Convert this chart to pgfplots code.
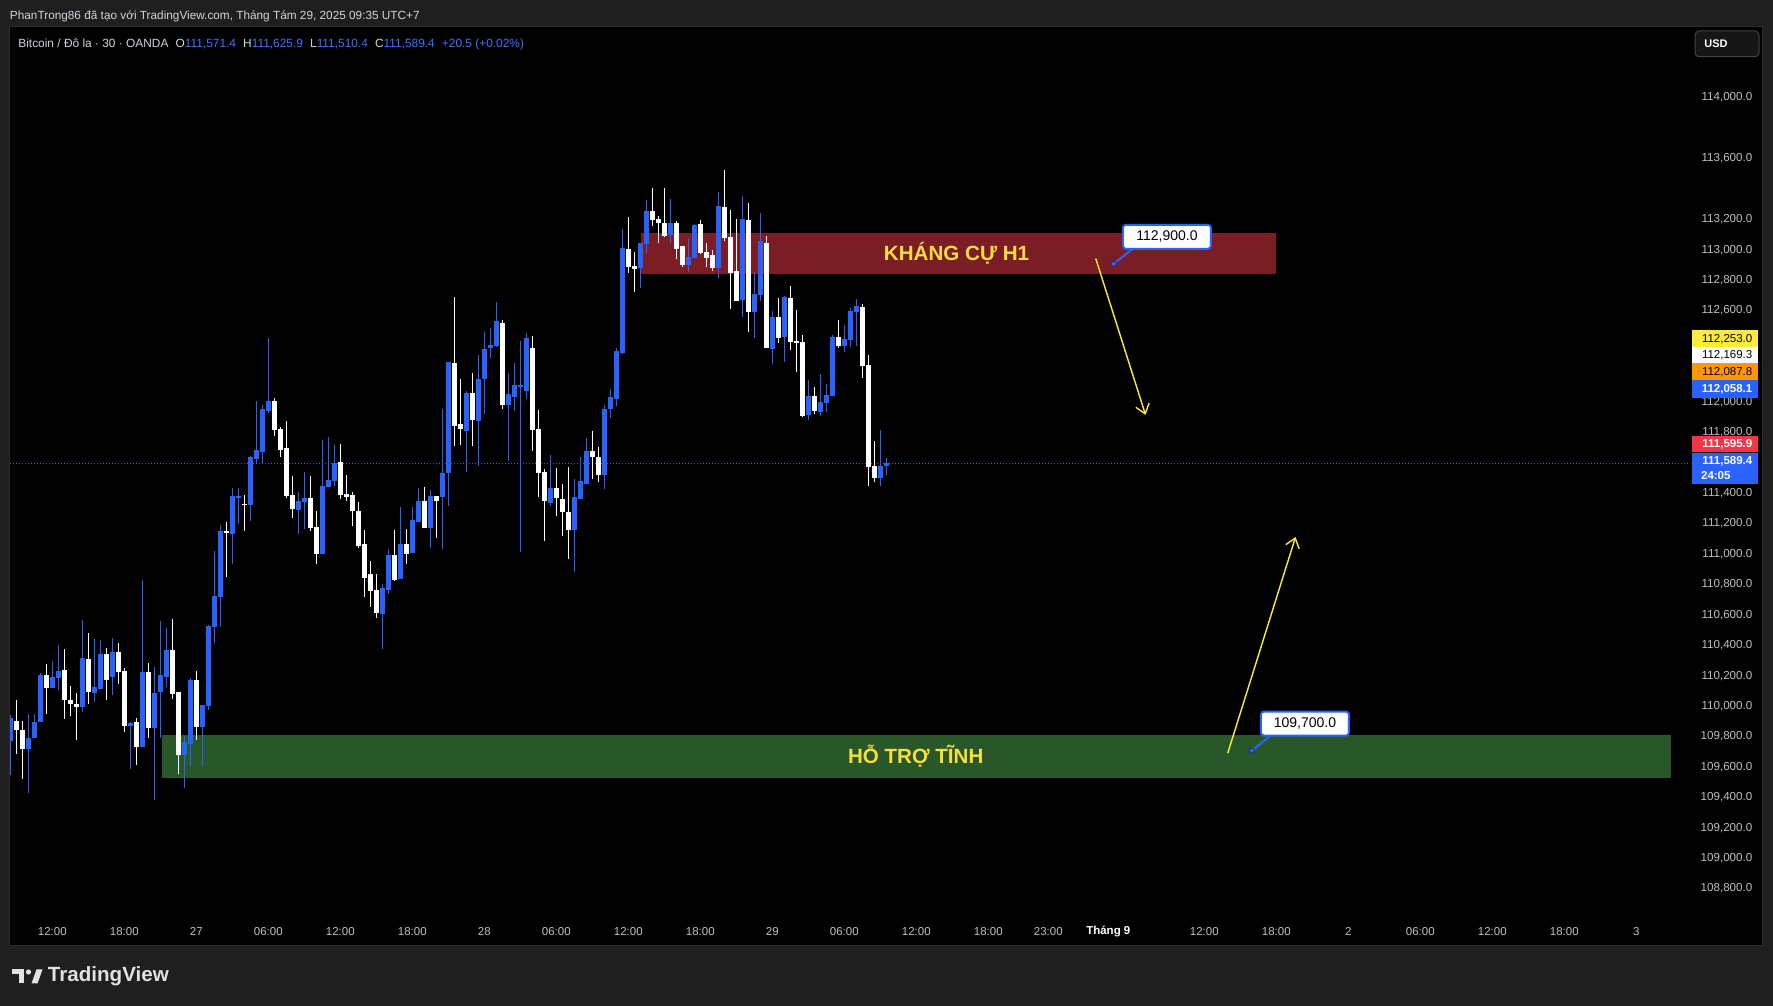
\documentclass[border=0pt]{standalone}
\usepackage{fontspec}
\setmainfont{Liberation Sans}
\usepackage{pgfplots}
\pgfplotsset{compat=1.18}
\usepackage{pgfplotstable}
\usetikzlibrary{arrows.meta}

\definecolor{bgout}{RGB}{31,31,31}
\definecolor{tvblue}{RGB}{41,98,255}
\definecolor{txtg}{RGB}{209,212,220}
\definecolor{axtxt}{RGB}{190,192,198}
\definecolor{rescol}{RGB}{122,29,36}
\definecolor{supcol}{RGB}{40,88,42}
\definecolor{ytxt}{RGB}{247,222,62}
\definecolor{arrowy}{RGB}{255,235,59}
\definecolor{tagyel}{RGB}{255,235,59}
\definecolor{tagora}{RGB}{255,152,0}
\definecolor{tagred}{RGB}{242,54,69}
\definecolor{paneb}{RGB}{44,44,44}
\definecolor{usdb}{RGB}{66,66,66}
\definecolor{usdf}{RGB}{22,22,22}
\definecolor{legval}{RGB}{60,115,255}
\definecolor{logo}{RGB}{225,225,225}

\newcommand{\FS}[1]{\fontsize{#1}{#1}\selectfont}

% up (blue) candles: x O H L C
\pgfplotstableread{
x O H L C
0 109760 109935 109540 109916
3 109708 109942 109423 109786
4 109780 109942 109780 109890
5 109890 110208 109890 110195
7 110110 110292 110110 110182
8 110175 110397 110097 110221
12 109987 110560 109955 110306
14 110078 110436 110020 110117
15 110104 110429 110104 110332
17 110182 110442 110065 110351
20 109864 109890 109579 109883
22 109721 110821 109721 110214
24 109851 110247 109378 110078
25 110085 110553 109780 110195
26 110182 110507 110117 110364
29 109670 109793 109456 109754
30 109741 110175 109598 110162
32 109858 110000 109598 110000
33 109994 110527 109968 110521
34 110514 111011 110410 110716
35 110710 111181 110514 111142
37 111122 111424 110926 111371
38 111358 111424 111188 111371
40 111312 111635 111207 111628
41 111615 111998 111582 111674
42 111661 111971 111582 111945
43 111932 112415 111918 111998
48 111280 111398 111122 111339
49 111332 111529 111155 111358
52 110991 111740 110991 111437
53 111431 111760 111431 111477
54 111470 111707 111437 111589
62 110599 110795 110371 110768
63 110755 111024 110729 110984
65 110827 111299 110827 111057
67 110997 111299 110997 111214
68 111201 111424 111201 111339
70 111161 111411 111030 111371
72 111365 111945 111024 111523
73 111523 112256 111306 112256
76 111800 112064 111529 112051
78 111866 112302 111569 112143
79 112143 112455 111912 112342
80 112348 112481 112282 112368
81 112362 112647 112355 112521
83 111971 112183 111602 112044
84 112024 112249 111932 112103
85 112090 112395 111004 112103
86 112064 112442 112011 112415
90 111325 111641 111306 111424
94 111148 111483 110873 111365
95 111352 111628 111352 111470
96 111450 111753 111450 111668
99 111510 111971 111418 111945
100 111945 112077 111885 112024
101 112011 112348 111965 112329
102 112315 113127 112309 113007
105 112874 113034 112741 113034
106 113027 113321 112974 113248
110 113087 113327 113040 113167
113 112894 113067 112847 112947
114 112940 113161 112940 113154
118 112874 113375 112807 113281
122 112661 113348 112548 113194
124 112581 112847 112415 112701
125 112694 113234 112654 113047
127 112342 112588 112243 112548
129 112422 112687 112256 112681
133 111905 112137 111872 112031
135 111925 112176 111899 111991
136 111984 112110 111925 112038
137 112031 112435 112031 112422
139 112362 112501 112322 112408
140 112402 112608 112355 112588
141 112581 112667 112362 112621
145 111490 111806 111437 111569
146 111571.4 111625.9 111510.4 111589.4
}\upT

% down (white) candles: x O H L C
\pgfplotstableread{
x O H L C
1 109896 110032 109676 109838
2 109838 109896 109514 109708
6 110195 110266 109942 110110
9 110227 110371 109909 110032
10 110032 110124 109929 110007
11 110007 110078 109767 109987
13 110299 110475 110007 110085
16 110338 110377 110032 110162
18 110351 110410 110136 110214
19 110221 110240 109819 109864
21 109890 109916 109605 109721
23 110214 110273 109786 109851
27 110358 110566 110039 110072
28 110085 110085 109546 109670
31 110162 110221 109767 109858
36 111142 111201 110840 111129
39 111319 111378 111142 111312
44 111998 112017 111767 111806
45 111813 111826 111628 111674
46 111687 111866 111358 111371
47 111378 111503 111227 111286
50 111358 111503 111142 111161
51 111168 111273 110926 110991
55 111595 111714 111352 111378
56 111385 111510 111339 111365
57 111378 111398 111175 111273
58 111273 111332 111030 111043
59 111057 111148 110710 110834
60 110860 110945 110644 110749
61 110755 110860 110573 110605
64 110984 111148 110814 110821
66 111057 111155 110926 110991
69 111339 111431 111161 111161
71 111371 111371 111096 111339
74 112249 112681 111701 111833
75 111846 112143 111707 111813
77 112051 112183 111701 111872
82 112514 112528 111945 111971
87 112348 112428 111668 111806
88 111813 111938 111365 111523
89 111529 111549 111076 111339
91 111424 111556 111240 111358
92 111352 111450 111109 111266
93 111266 111562 110958 111148
97 111668 111800 111483 111628
98 111628 111694 111464 111510
103 113000 113207 112840 112880
104 112887 112980 112714 112867
107 113248 113401 113147 113187
108 113194 113214 113040 113167
109 113167 113401 113074 113081
111 113167 113181 112934 113000
112 113014 113014 112880 112894
115 113161 113187 112967 112974
116 112980 113040 112880 112940
117 112960 112994 112854 112874
119 113274 113515 113047 113067
120 113074 113254 112601 112840
121 112854 113194 112654 112654
123 113187 113301 112455 112581
126 113040 113081 112349 112349
128 112548 112674 112382 112415
130 112674 112754 112335 112389
131 112395 112594 112190 112382
132 112389 112435 111892 111899
134 112031 112090 111912 111932
138 112422 112528 112348 112362
142 112614 112634 112150 112229
143 112236 112302 111437 111562
144 111569 111734 111464 111490
}\downT

\begin{document}
\begin{tikzpicture}
% ---------- frame (1 px = 0.5pt) ----------
\begin{scope}[x=0.5pt,y=-0.5pt,shift={(0pt,503pt)}]
\fill[bgout] (0,0) rectangle (1773,1006);
\fill[black] (9.5,27) rectangle (1762,946);
\draw[paneb, line width=0.5pt] (9.5,27) rectangle (1762,946);
\end{scope}

\begin{axis}[
  at={(5pt,47pt)}, anchor=south west,
  scale only axis, width=840pt, height=442.5pt,
  xmin=-0.055, xmax=279.945, ymin=108638.9, ymax=114456.9,
  scaled y ticks=false, scaled x ticks=false,
  axis line style={draw=none},
  major tick length=0pt, tick style={draw=none},
  xtick={7,19,31,43,55,67,79,91,103,115,127,139,151,163,173,183,199,211,223,235,247,259,271},
  xticklabels={12:00,18:00,27,06:00,12:00,18:00,28,06:00,12:00,18:00,29,06:00,12:00,18:00,23:00,{\textcolor{white}{\bfseries Tháng 9}},12:00,18:00,2,06:00,12:00,18:00,3},
  ytick={108800,109000,109200,109400,109600,109800,110000,110200,110400,110600,110800,111000,111200,111400,111600,111800,112000,112200,112400,112600,112800,113000,113200,113600,114000},
  yticklabels={{108,800.0},{109,000.0},{109,200.0},{109,400.0},{109,600.0},{109,800.0},{110,000.0},{110,200.0},{110,400.0},{110,600.0},{110,800.0},{111,000.0},{111,200.0},{111,400.0},{111,600.0},{111,800.0},{112,000.0},{112,200.0},{112,400.0},{112,600.0},{112,800.0},{113,000.0},{113,200.0},{113,600.0},{114,000.0}},
  yticklabel pos=right,
  xticklabel style={anchor=center, yshift=-9.85pt, inner sep=0pt, font=\FS{5.75pt}, text=axtxt},
  yticklabel style={anchor=east, xshift=31.35pt, yshift=-0.6pt, inner sep=0pt, font=\FS{5.8pt}, text=axtxt},
  ]
% zones
\fill[supcol] (axis cs:25.2,109520) rectangle (axis cs:276.8,109805);
\fill[rescol] (axis cs:105.1,112835) rectangle (axis cs:210.9,113105);
% last price line
\addplot[tvblue, line width=0.5pt, dash pattern=on 0.5pt off 1pt] coordinates {(-1,111589.4) (281,111589.4)};
% wicks
\addplot[draw=none, mark=none, error bars/.cd, y dir=plus, y explicit, error mark=none,
  error bar style={draw=tvblue, line width=0.5pt}]
  table[x=x, y=L, y error expr=\thisrow{H}-\thisrow{L}] {\upT};
\addplot[draw=none, mark=none, error bars/.cd, y dir=plus, y explicit, error mark=none,
  error bar style={draw=white, line width=0.5pt}]
  table[x=x, y=L, y error expr=\thisrow{H}-\thisrow{L}] {\downT};
% bodies
\addplot[draw=none, mark=none, error bars/.cd, y dir=plus, y explicit, error mark=none,
  error bar style={draw=tvblue, line width=2.5pt}]
  table[x=x, y=O, y error expr=\thisrow{C}-\thisrow{O}] {\upT};
\addplot[draw=none, mark=none, error bars/.cd, y dir=plus, y explicit, error mark=none,
  error bar style={draw=white, line width=2.5pt}]
  table[x=x, y=C, y error expr=\thisrow{O}-\thisrow{C}] {\downT};
% zone texts
\node[text=ytxt, font=\bfseries\FS{10.3pt}] at (axis cs:157.7,112970) {KHÁNG CỰ H1};
\node[text=ytxt, font=\bfseries\FS{10.3pt}] at (axis cs:150.9,109665) {HỖ TRỢ TĨNH};
% arrows
\draw[arrowy, line width=0.7pt, -{Straight Barb[length=4.5pt,width=7pt]}] (axis cs:180.9,112935) -- (axis cs:189.2,111907);
\draw[arrowy, line width=0.7pt, -{Straight Barb[length=4.5pt,width=7pt]}] (axis cs:202.9,109683) -- (axis cs:214.2,111104);
% price callouts
\draw[tvblue, line width=1pt] (axis cs:183.9,112900) -- ++(9.6pt,7.6pt);
\node[draw=tvblue, line width=1pt, fill=white, rounded corners=1.5pt, minimum width=44pt, minimum height=12pt, inner sep=0pt, font=\FS{7pt}, text=black, xshift=26.6pt, yshift=13.5pt] at (axis cs:183.9,112900) {112,900.0};
\filldraw[fill=tvblue, draw=black!60!tvblue, line width=0.3pt] (axis cs:183.9,112900) circle (1.3pt);
\draw[tvblue, line width=1pt] (axis cs:206.9,109700) -- ++(9.6pt,7.6pt);
\node[draw=tvblue, line width=1pt, fill=white, rounded corners=1.5pt, minimum width=44pt, minimum height=12pt, inner sep=0pt, font=\FS{7pt}, text=black, xshift=26.6pt, yshift=13.5pt] at (axis cs:206.9,109700) {109,700.0};
\filldraw[fill=tvblue, draw=black!60!tvblue, line width=0.3pt] (axis cs:206.9,109700) circle (1.3pt);
\end{axis}

% ---------- chrome in px ----------
\begin{scope}[x=0.5pt,y=-0.5pt,shift={(0pt,503pt)}]
% header
\node[anchor=west, inner sep=0pt, font=\FS{5.9pt}, text=txtg] at (9.6,16.8) {PhanTrong86 đã tạo với TradingView.com, Tháng Tám 29, 2025 09:35 UTC+7};
% legend
\node[anchor=west, inner sep=0pt, font=\FS{5.95pt}, text=txtg] at (18,44) {Bitcoin / Đô la · 30 · OANDA\hspace{0.6em}O\textcolor{legval}{111,571.4}\hspace{0.6em}H\textcolor{legval}{111,625.9}\hspace{0.6em}L\textcolor{legval}{111,510.4}\hspace{0.6em}C\textcolor{legval}{111,589.4}\hspace{0.6em}\textcolor{legval}{+20.5 (+0.02\%)}};
% USD box
\draw[draw=usdb, fill=usdf, line width=0.5pt, rounded corners=2pt] (1695,31) rectangle (1759,56.7);
\node[anchor=west, inner sep=0pt, font=\bfseries\FS{5.5pt}, text=white] at (1704,44) {USD};
% price tags
\fill[tagyel] (1692,330) rectangle (1757.7,347.3);
\node[anchor=east, inner sep=0pt, font=\FS{5.75pt}, text=black] at (1752.7,338.8) {112,253.0};
\fill[white] (1692,347.3) rectangle (1757.7,363.3);
\node[anchor=east, inner sep=0pt, font=\FS{5.75pt}, text=black] at (1752.7,355.5) {112,169.3};
\fill[tagora] (1692,363.3) rectangle (1757.7,380);
\node[anchor=east, inner sep=0pt, font=\FS{5.75pt}, text=black] at (1752.7,371.8) {112,087.8};
\fill[tvblue] (1692,380) rectangle (1757.7,397.7);
\node[anchor=east, inner sep=0pt, font=\bfseries\FS{5.75pt}, text=white] at (1752.7,388.9) {112,058.1};
\fill[tagred] (1692,435.7) rectangle (1757.7,452.3);
\node[anchor=east, inner sep=0pt, font=\bfseries\FS{5.75pt}, text=white] at (1752.7,444) {111,595.9};
\fill[tvblue] (1692,453.3) rectangle (1757.7,484);
\node[anchor=east, inner sep=0pt, font=\bfseries\FS{5.75pt}, text=white] at (1752.7,461.8) {111,589.4};
\node[anchor=west, inner sep=0pt, font=\bfseries\FS{5.75pt}, text=white] at (1700.7,476) {24:05};
% TradingView logo
\fill[logo] (11.5,969.5) rectangle (23.5,974.5);
\fill[logo] (18.5,969.5) rectangle (23.5,983.5);
\fill[logo] (28.5,972) circle (2.6);
\fill[logo] (31.5,983.5) -- (36.5,969.5) -- (42.5,969.5) -- (37.5,983.5) -- cycle;
\node[anchor=west, inner sep=0pt, font=\bfseries\FS{10.3pt}, text=logo] at (47.5,976.5) {TradingView};
\end{scope}
\pgfresetboundingbox
\path[use as bounding box] (0pt,0pt) rectangle (886.5pt,503pt);
\end{tikzpicture}
\end{document}
